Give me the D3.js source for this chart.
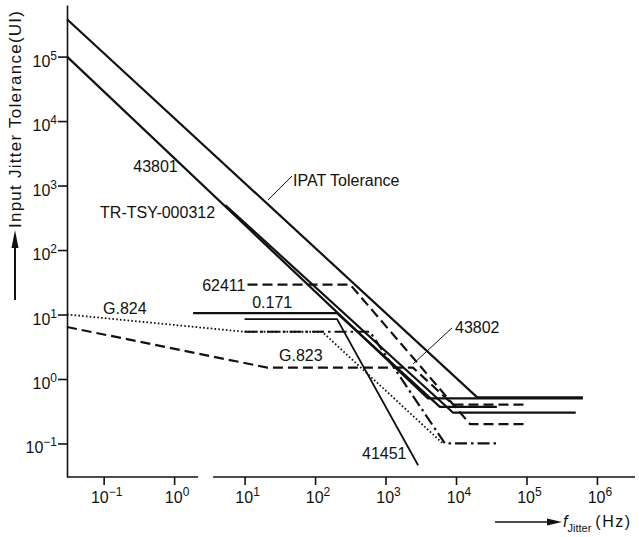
<!DOCTYPE html>
<html>
<head>
<meta charset="utf-8">
<script src="https://cdn.jsdelivr.net/npm/d3@7"></script>
<style>
  body { margin: 0; background: #fff; }
  text { font-family: "Liberation Sans", Arial, sans-serif; fill: #111; }
</style>
</head>
<body>
<div id="container"></div>
<script>
// tolerance masks: [jitter frequency Hz, tolerance UI]
const ipat     = [[0.0302, 3.8e5], [2.0e4, 0.52], [6.3e5, 0.52]];
const m43801   = [[0.0302, 1.0e5], [4.0e3, 0.5], [6.3e5, 0.5]];
const trTsy    = [[5.3, 500], [9.1e3, 0.3], [5.0e5, 0.3]];
const o171     = [[1.86, 10.5], [205, 10.5], [5.9e3, 0.37], [3.8e4, 0.37]];
const m41451   = [[10, 8.5], [205, 8.5], [2.9e3, 0.046]];
const m62411   = [[11, 29], [316, 29], [1.58e4, 0.2], [9.8e4, 0.2]];
const g823     = [[0.0302, 6.4], [21, 1.5], [2.45e3, 1.5], [9.1e3, 0.4], [9.5e4, 0.4]];
const g824     = [[0.0302, 10], [10, 5.4], [126, 5.4], [6.5e3, 0.1]];
const dashDot  = [[10, 5.4], [600, 5.4], [6.95e3, 0.1], [3.8e4, 0.1]];

// tick values
const xTicks = [1e-1, 1e0, 1e1, 1e2, 1e3, 1e4, 1e5, 1e6];
const yTicks = [1e-1, 1e0, 1e1, 1e2, 1e3, 1e4, 1e5];

// curve names: [text, f, UI at text start/baseline]
const names = [
  ["43801", 0.263, 1620],
  ["TR-TSY-000312", 0.089, 313],
  ["IPAT Tolerance", 48.7, 982],
  ["62411", 2.5, 23],
  ["0.171", 12.8, 12.6],
  ["G.824", 0.098, 10.2],
  ["G.823", 30.8, 1.9],
  ["43802", 9680, 5.16],
  ["41451", 464, 0.0575]
];
// leader lines [f1, ui1, f2, ui2]
const leaders = [
  [47, 1400, 21.5, 596],
  [8770, 6.2, 2460, 1.71]
];

const width = 639, height = 537;

const svg = d3.select("#container").append("svg")
  .attr("width", width)
  .attr("height", height);

const x = d3.scaleLog().domain([10 ** -1.52, 10 ** 6.54]).range([67, 635]);
const y = d3.scaleLog().domain([10 ** -1.52, 10 ** 5.80]).range([477, 5]);

// AXES
const yAxis = d3.axisLeft(y).tickValues(yTicks).tickFormat("").tickSize(9).tickSizeOuter(0);
const gy = svg.append("g").attr("transform", `translate(${x.range()[0]},0)`).call(yAxis);
gy.selectAll("line, path").attr("stroke", "#111").attr("stroke-width", 1.6);

const xAxis = d3.axisBottom(x).tickValues(xTicks).tickFormat("").tickSize(8).tickSizeOuter(0);
const gx = svg.append("g").attr("transform", `translate(0,${y.range()[0]})`).call(xAxis);
gx.select(".domain").remove();
gx.selectAll("line").attr("stroke", "#111").attr("stroke-width", 1.6);

// x axis line is broken between 10^0.34 and 10^0.55
const breakLo = 10 ** 0.34, breakHi = 10 ** 0.553;
[[x.domain()[0], breakLo], [breakHi, x.domain()[1]]].forEach(s => {
  gx.append("line")
    .attr("x1", x(s[0])).attr("x2", x(s[1]))
    .attr("y1", 0).attr("y2", 0)
    .attr("stroke", "#111").attr("stroke-width", 1.6);
});

function powLabel(sel, t) {
  const e = Math.round(Math.log10(t));
  sel.append("tspan").text("10");
  sel.append("tspan").attr("font-size", 12).attr("dy", -7)
    .text(e < 0 ? "\u2212" + (-e) : e);
}

yTicks.forEach(t => {
  svg.append("text")
    .attr("x", 57).attr("y", y(t) + 10)
    .attr("text-anchor", "end")
    .attr("font-size", 16)
    .call(powLabel, t);
});
xTicks.forEach(t => {
  svg.append("text")
    .attr("x", x(t) + 3).attr("y", 503)
    .attr("text-anchor", "middle")
    .attr("font-size", 16)
    .call(powLabel, t);
});

// axis titles
svg.append("text")
  .attr("transform", "translate(21,228) rotate(-90)")
  .attr("font-size", 17)
  .attr("textLength", 217).attr("lengthAdjust", "spacing")
  .text("Input Jitter Tolerance(UI)");
svg.append("line").attr("x1", 15).attr("x2", 15).attr("y1", 300).attr("y2", 244)
  .attr("stroke", "#111").attr("stroke-width", 2);
svg.append("path").attr("d", "M15,230 L11.5,248 L18.5,248 Z").attr("fill", "#111");

svg.append("line").attr("x1", 495).attr("x2", 550).attr("y1", 522).attr("y2", 522)
  .attr("stroke", "#111").attr("stroke-width", 1.5);
svg.append("path").attr("d", "M562,522 L547,518.5 L547,525.5 Z").attr("fill", "#111");
const xt = svg.append("text").attr("x", 563).attr("y", 527).attr("font-size", 16);
xt.append("tspan").attr("font-style", "italic").text("f");
xt.append("tspan").attr("font-size", 11).attr("dy", 5).text("Jitter");
xt.append("tspan").attr("font-size", 16).attr("dy", -5).attr("dx", 4)
  .attr("letter-spacing", 1.5).text("(Hz)");

// CURVES
const series = [
  { pts: ipat, dash: null, w: 2.2 },
  { pts: m43801, dash: null, w: 2.2 },
  { pts: trTsy, dash: null, w: 2.2 },
  { pts: o171, dash: null, w: 2.2 },
  { pts: m41451, dash: null, w: 1.8 },
  { pts: m62411, dash: "10,5", w: 2.2 },
  { pts: g823, dash: "10,5", w: 2.2 },
  { pts: g824, dash: "1.6,2.2", w: 1.8 },
  { pts: dashDot, dash: "12,4,2.5,4", w: 2.2 }
];

const lineGen = d3.line().x(d => x(d[0])).y(d => y(d[1]));

svg.append("g").selectAll("path")
  .data(series)
  .enter().append("path")
    .attr("d", d => lineGen(d.pts))
    .attr("fill", "none")
    .attr("stroke", "#111")
    .attr("stroke-width", d => d.w)
    .attr("stroke-dasharray", d => d.dash);

// LABELS
svg.append("g").selectAll("line")
  .data(leaders)
  .enter().append("line")
    .attr("x1", d => x(d[0])).attr("y1", d => y(d[1]))
    .attr("x2", d => x(d[2])).attr("y2", d => y(d[3]))
    .attr("stroke", "#111").attr("stroke-width", 1);

svg.append("g").selectAll("text")
  .data(names)
  .enter().append("text")
    .attr("x", d => x(d[1])).attr("y", d => y(d[2]))
    .attr("font-size", 16)
    .text(d => d[0]);
</script>
</body>
</html>
